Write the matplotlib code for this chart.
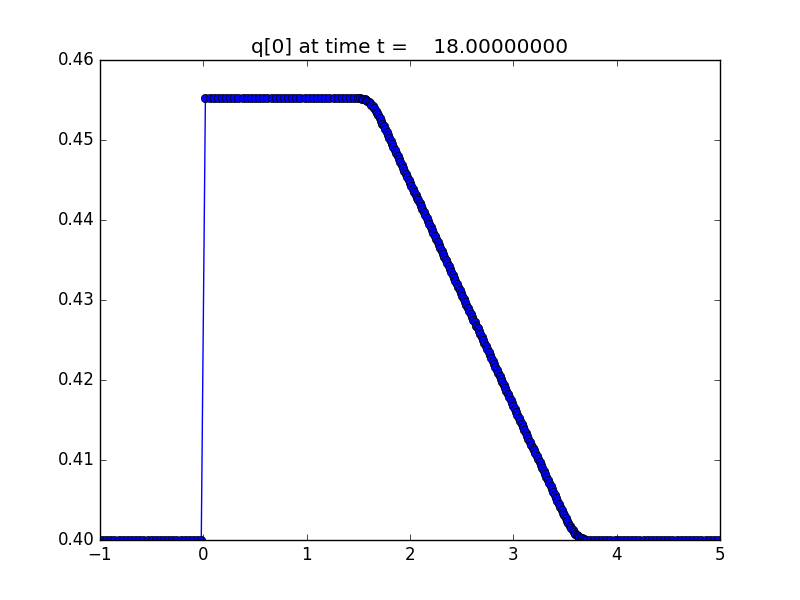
import numpy as np
import matplotlib
matplotlib.use('Agg')
import matplotlib.pyplot as plt

plt.style.use('classic')

# cell centres: coarse level (dx = 0.04) and a refined patch (dx = 0.04/3) on the ramp
x_left = np.linspace(-0.98, 1.50, 63)
x_fine = np.linspace(1.52, 3.68, 163)
x_right = np.linspace(3.70, 4.98, 33)

# q[0]
q_left = [0.4000] * 25 + [0.4553] * 38
q_fine = [0.45521, 0.45518, 0.45513, 0.45507, 0.45499, 0.45489, 0.45476, 0.45460,
          0.45442, 0.45420, 0.45395, 0.45368, 0.45338, 0.45307, 0.45274, 0.45240,
          0.45205, 0.45170, 0.45134,
          0.45099, 0.45062, 0.45025, 0.44988, 0.44951, 0.44913, 0.44876, 0.44839,
          0.44802, 0.44765, 0.44727, 0.44690, 0.44653, 0.44616, 0.44579, 0.44541,
          0.44504, 0.44467, 0.44430, 0.44393, 0.44355, 0.44318, 0.44281, 0.44244,
          0.44207, 0.44169, 0.44132, 0.44095, 0.44058, 0.44021, 0.43983, 0.43946,
          0.43909, 0.43872, 0.43835, 0.43797, 0.43760, 0.43723, 0.43686, 0.43649,
          0.43611, 0.43574, 0.43537, 0.43500, 0.43463, 0.43425, 0.43388, 0.43351,
          0.43314, 0.43277, 0.43239, 0.43202, 0.43165, 0.43128, 0.43091, 0.43053,
          0.43016, 0.42979, 0.42942, 0.42905, 0.42867, 0.42830, 0.42793, 0.42756,
          0.42719, 0.42681, 0.42644, 0.42607, 0.42570, 0.42533, 0.42495, 0.42458,
          0.42421, 0.42384, 0.42347, 0.42309, 0.42272, 0.42235, 0.42198, 0.42161,
          0.42123, 0.42086, 0.42049, 0.42012, 0.41975, 0.41937, 0.41900, 0.41863,
          0.41826, 0.41789, 0.41751, 0.41714, 0.41677, 0.41640, 0.41603, 0.41565,
          0.41528, 0.41491, 0.41454, 0.41417, 0.41379, 0.41342, 0.41305, 0.41268,
          0.41231, 0.41193, 0.41156, 0.41119, 0.41082, 0.41045, 0.41007, 0.40970,
          0.40933, 0.40896, 0.40859, 0.40821, 0.40784, 0.40747, 0.40710, 0.40673,
          0.40635, 0.40598, 0.40561, 0.40524, 0.40487, 0.40451,
          0.40415, 0.40379, 0.40343, 0.40308, 0.40273, 0.40240, 0.40208, 0.40177,
          0.40149, 0.40123, 0.40099, 0.40079, 0.40062, 0.40047, 0.40036, 0.40027,
          0.40020, 0.40015]
q_right = [0.4000] * 33

x = np.concatenate([x_left, x_fine, x_right])
q = np.array(q_left + q_fine + q_right)

fig = plt.figure(figsize=(8, 6), dpi=100)
ax = fig.add_subplot(111)
ax.plot(x, q, 'bo-', mec='k')
ax.set_xlim(-1, 5)
ax.set_ylim(0.40, 0.46)
ax.set_title('q[0] at time t =    18.00000000')

fig.savefig('out.png', dpi=100)
